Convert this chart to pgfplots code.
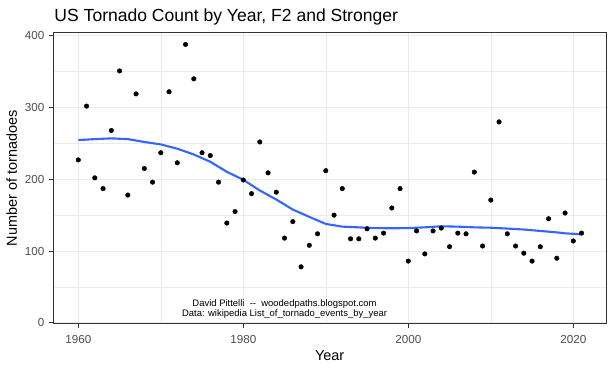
\documentclass[border=0pt]{standalone}
\usepackage{pgfplots}
\pgfplotsset{compat=1.18}
\usepackage{fontspec}
\setmainfont{Liberation Sans}
\definecolor{gridc}{HTML}{EBEBEB}
\definecolor{borderc}{HTML}{333333}
\definecolor{ticklab}{HTML}{4D4D4D}
\definecolor{smoothc}{HTML}{3366FF}
\pgfplotstableread{
year count
1960 227
1961 302
1962 202
1963 187
1964 268
1965 351
1966 178
1967 319
1968 215
1969 196
1970 237
1971 322
1972 223
1973 388
1974 340
1975 237
1976 233
1977 196
1978 139
1979 155
1980 199
1981 180
1982 252
1983 209
1984 182
1985 118
1986 141
1987 78
1988 108
1989 124
1990 212
1991 150
1992 187
1993 117
1994 117
1995 131
1996 118
1997 125
1998 160
1999 187
2000 86
2001 128
2002 96
2003 128
2004 132
2005 106
2006 125
2007 124
2008 210
2009 107
2010 171
2011 280
2012 124
2013 107
2014 97
2015 86
2016 106
2017 145
2018 90
2019 153
2020 114
2021 125
}\counts
\pgfplotstableread{
year fit
1960 254.6
1962 256.0
1964 257.0
1966 256.0
1968 252.0
1970 248.6
1972 242.6
1974 234.6
1976 224.4
1978 210.5
1980 199.3
1982 184.4
1984 171.8
1986 157.8
1988 147.6
1990 137.8
1992 134.0
1994 133.0
1996 132.0
1998 131.7
2000 132.0
2002 133.0
2004 134.5
2006 134.0
2008 133.0
2010 132.5
2012 131.3
2014 130.0
2016 128.0
2018 126.0
2019 124.7
2021 123.3
}\smoothfit
\begin{document}
\begin{tikzpicture}[x=1bp,y=1bp]
\useasboundingbox (-53.3,-46.5) rectangle (560.7,323.5);
\begin{axis}[
  at={(0,0)}, anchor=south west, scale only axis,
  width=553.4bp, height=290.8bp,
  xmin=1956.97, xmax=2024.05, ymin=-1, ymax=404.3,
  axis line style={borderc, line width=1bp},
  grid=both,
  major grid style={gridc, line width=1bp},
  minor grid style={gridc, line width=0.5bp},
  xtick={1960,1980,2000,2020},
  minor xtick={1970,1990,2010},
  ytick={0,100,200,300,400},
  minor ytick={50,150,250,350},
  xtick pos=bottom, ytick pos=left,
  tick align=outside,
  major tick length=4.5bp, minor tick length=0pt,
  tick style={borderc, line width=1bp},
  xticklabel style={font=\fontsize{11.7}{12}\selectfont, text=ticklab, inner sep=0pt, anchor=base, yshift=-15.3bp},
  yticklabel style={font=\fontsize{11.7}{12}\selectfont, text=ticklab, inner sep=0pt, anchor=east, xshift=-4.3bp},
  /pgf/number format/assume math mode=true,
  /pgf/number format/1000 sep={},
  clip=false,
]
\addplot[only marks, mark=*, mark size=2.3bp, black, mark options={fill=black, draw=black}] table[x=year, y=count] {\counts};
\addplot[smoothc, line width=2.1bp, no marks] table[x=year, y=fit] {\smoothfit};
\node[font=\fontsize{9.5}{10}\selectfont, align=center, inner sep=0pt] at (axis cs:1985,19.5)
  {David Pittelli\ \ -{}-\ \ woodedpaths.blogspot.com\\Data: wikipedia List\_of\_tornado\_events\_by\_year};
\end{axis}
\node[font=\fontsize{17.6}{20}\selectfont, anchor=base west, inner sep=0pt] at (1.0,301.8) {US Tornado Count by Year, F2 and Stronger};
\node[font=\fontsize{14.5}{16}\selectfont, anchor=base, inner sep=0pt] at (276.4,-36.5) {Year};
\node[font=\fontsize{14.5}{16}\selectfont, anchor=base, inner sep=0pt, rotate=90] at (-36.3,145.2) {Number of tornadoes};
\end{tikzpicture}
\end{document}
